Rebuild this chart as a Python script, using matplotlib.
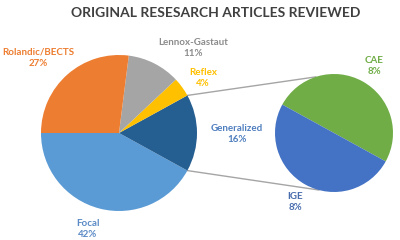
import matplotlib.pyplot as plt
import numpy as np

plt.rcParams['font.family'] = ['Lato', 'DejaVu Sans']

# main pie, counter-clockwise from the left
main_labels = ['Focal', 'Generalized', 'Reflex', 'Lennox-Gastaut', 'Rolandic/BECTS']
main_values = [42, 16, 4, 11, 27]
main_colors = ['#5B9BD5', '#255E91', '#FFC000', '#A5A5A5', '#ED7D31']

# split of Generalized
sub_labels = ['CAE', 'IGE']
sub_values = [8, 8]
sub_colors = ['#70AD47', '#4472C4']

fig = plt.figure(figsize=(4, 2.4), dpi=100)
ax = fig.add_axes([0, 0, 1, 1])

c1 = (119, 107)
r1 = 78
c2 = (334, 107)
r2 = 59

ax.pie(main_values, colors=main_colors, startangle=180, counterclock=True,
       center=c1, radius=r1, frame=True)
ax.pie(sub_values, colors=sub_colors, startangle=-28.8, counterclock=True,
       center=c2, radius=r2, frame=True)

# connector lines
a_top = np.radians(28.8)
a_bot = np.radians(-28.8)
b_top = np.radians(108)
b_bot = np.radians(255)
ax.plot([c1[0] + r1*np.cos(a_top), c2[0] + r2*np.cos(b_top)],
        [c1[1] + r1*np.sin(a_top), c2[1] + r2*np.sin(b_top)],
        color='#A5A5A5', lw=1, zorder=0)
ax.plot([c1[0] + r1*np.cos(a_bot), c2[0] + r2*np.cos(b_bot)],
        [c1[1] + r1*np.sin(a_bot), c2[1] + r2*np.sin(b_bot)],
        color='#A5A5A5', lw=1, zorder=0)

# data labels
lab = [
    ('Rolandic/BECTS\n27%', 38, 182, '#ED7D31'),
    ('Lennox-Gastaut\n11%', 193, 192, '#8C8C8C'),
    ('Reflex\n4%', 203, 162, '#FFC000'),
    ('Generalized\n16%', 237, 106, '#4F7FBF'),
    ('Focal\n42%', 88, 11, '#5A8AC6'),
    ('CAE\n8%', 374, 174, '#70AD47'),
    ('IGE\n8%', 295, 38, '#4A6DAE'),
]
for t, x, y, col in lab:
    ax.text(x, y, t, ha='center', va='center', color=col, fontsize=7,
            fontweight='bold', linespacing=1.3)

ax.text(216, 227, 'ORIGINAL RESESARCH ARTICLES REVIEWED', ha='center', va='center',
        color='#404040', fontsize=10, fontweight='bold')

ax.set_xlim(0, 400)
ax.set_ylim(0, 240)
ax.set_aspect('auto')
ax.axis('off')

fig.savefig('out.png', dpi=100)
